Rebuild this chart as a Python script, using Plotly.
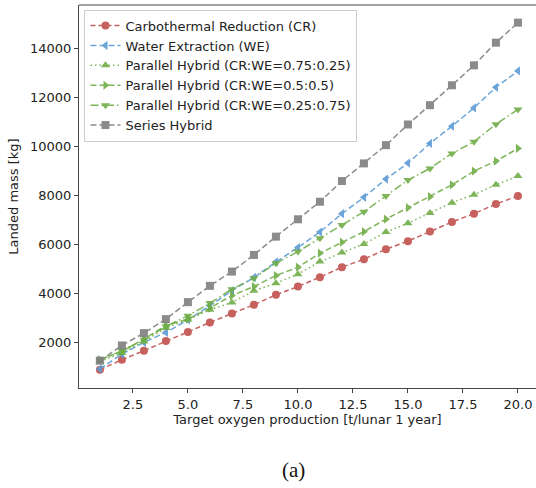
import plotly.graph_objects as go

x_vals = list(range(1, 21))

cr = [887, 1294, 1660, 2055, 2422, 2813, 3180, 3533, 3940, 4278,
      4660, 5067, 5393, 5800, 6130, 6520, 6911, 7250, 7643, 7975]
we = [916, 1526, 2000, 2405, 2922, 3492, 4110, 4650, 5280, 5870,
      6500, 7250, 7916, 8661, 9312, 10113, 10818, 11563, 12405, 13070]
ph_075 = [1225, 1567, 2040, 2585, 2922, 3330, 3627, 4103, 4416, 4782,
          5295, 5662, 6015, 6500, 6860, 7280, 7698, 8025, 8430, 8783]
ph_050 = [1294, 1632, 2137, 2690, 2950, 3398, 3911, 4278, 4726, 5067,
          5637, 6085, 6516, 7025, 7493, 7941, 8425, 8986, 9393, 9910]
ph_025 = [1294, 1660, 2108, 2650, 3085, 3602, 4172, 4619, 5229, 5702,
          6248, 6788, 7330, 7969, 8620, 9096, 9707, 10179, 10900, 11498]
series_h = [1254, 1876, 2380, 2950, 3642, 4306, 4888, 5568, 6313, 7020,
            7737, 8580, 9300, 10045, 10887, 11673, 12487, 13300, 14225, 15040]

x_ticks = [2.5, 5, 7.5, 10, 12.5, 15, 17.5, 20]
x_ticktext = ["2.5", "5.0", "7.5", "10.0", "12.5", "15.0", "17.5", "20.0"]
y_ticks = [2000, 4000, 6000, 8000, 10000, 12000, 14000]
y_ticktext = ["2000", "4000", "6000", "8000", "10000", "12000", "14000"]

names = ["Carbothermal Reduction (CR)", "Water Extraction (WE)",
         "Parallel Hybrid (CR:WE=0.75:0.25)", "Parallel Hybrid (CR:WE=0.5:0.5)",
         "Parallel Hybrid (CR:WE=0.25:0.75)", "Series Hybrid"]
data = [cr, we, ph_075, ph_050, ph_025, series_h]
colors = ["#C0504D", "#5B9BD5", "#70AD47", "#70AD47", "#70AD47", "#7F7F7F"]
dashes = ["5px,3px", "6px,3px", "1.5px,3px", "6px,3px", "8px,3px,1.5px,3px", "6px,3px"]
symbols = ["circle", "triangle-left", "triangle-up", "triangle-right", "triangle-down", "square"]

fig = go.Figure()
for n, d, c, ds, s in zip(names, data, colors, dashes, symbols):
    fig.add_trace(go.Scatter(
        x=x_vals, y=d, name=n, mode="lines+markers",
        line=dict(color=c, width=1.5, dash=ds),
        marker=dict(symbol=s, size=8, color=c),
        opacity=0.9,
    ))

font = dict(family="DejaVu Sans", size=13, color="#222222")
fig.update_layout(
    width=536, height=488,
    margin=dict(l=79, r=0, t=5, b=100),
    paper_bgcolor="white", plot_bgcolor="white",
    font=font,
    showlegend=True,
    legend=dict(x=0.012, y=0.988, xanchor="left", yanchor="top",
                bgcolor="rgba(255,255,255,0.85)", bordercolor="#CCCCCC",
                borderwidth=1, font=font, tracegroupgap=0,
                itemwidth=30),
    xaxis=dict(range=[0.05, 20.82], tickvals=x_ticks, ticktext=x_ticktext,
               showgrid=False, zeroline=False, showline=True, linecolor="#444444",
               linewidth=1, ticks="outside", ticklen=4, tickcolor="#444444",
               tickfont=font,
               title=dict(text="Target oxygen production [t/lunar 1 year]", standoff=3,
                          font=font)),
    yaxis=dict(range=[140, 15760], tickvals=y_ticks, ticktext=y_ticktext,
               showgrid=False, zeroline=False, showline=True, linecolor="#444444",
               linewidth=1, ticks="outside", ticklen=4, tickcolor="#444444",
               tickfont=font,
               title=dict(text="Landed mass [kg]", standoff=8, font=font)),
    shapes=[dict(type="line", xref="paper", yref="paper", x0=0, x1=1, y0=1, y1=1,
                 line=dict(color="#444444", width=1))],
    annotations=[dict(text="(a)", xref="paper", yref="paper", x=(293 - 79) / 457,
                      y=(388 - 470) / 383, xanchor="center", yanchor="middle",
                      showarrow=False,
                      font=dict(family="Liberation Serif", size=21, color="#111111"))],
)

fig.write_html("out.html")
